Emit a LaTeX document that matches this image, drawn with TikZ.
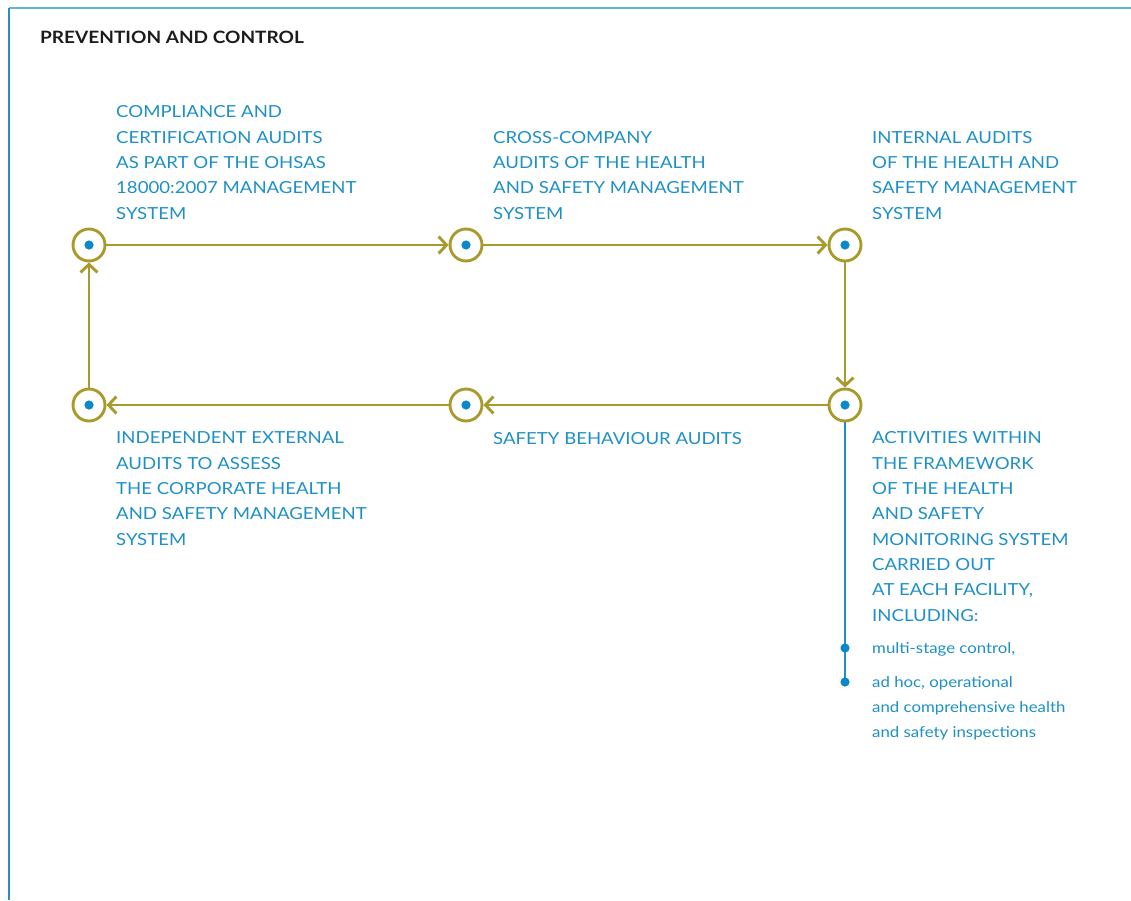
\documentclass[tikz,border=0pt]{standalone}
\usepackage{fontspec}
\setmainfont{Lato}[FakeStretch=1.12]
\usetikzlibrary{arrows.meta}
\definecolor{olivec}{HTML}{A89A2C}
\definecolor{textblue}{HTML}{1E90C8}
\definecolor{dotblue}{HTML}{0A88C8}
\definecolor{frametop}{HTML}{62B4DA}
\definecolor{frameleft}{HTML}{2A8CC6}
\definecolor{titlec}{HTML}{1C1C1C}
\begin{document}
\begin{tikzpicture}[x=1pt,y=-1pt,
ring/.style={circle,draw=olivec,line width=2.9pt,minimum size=32pt,inner sep=0pt,
	path picture={\fill[dotblue] (path picture bounding box.center) circle (4.6pt);}},
flow/.style={draw=olivec,line width=2.9pt,-{Straight Barb[length=8pt,width=17pt,line width=2.9pt]}},
blocktext/.style={anchor=base west,inner sep=0pt,align=left,text=textblue,
	font=\fontsize{16.6}{25.3}\selectfont},
smalltext/.style={anchor=base west,inner sep=0pt,align=left,text=textblue,
	font=\fontsize{15}{25}\selectfont}]
\useasboundingbox (0,0) rectangle (1131,900);

%frame
\coordinate (corner) at (9,8);
\coordinate (topend) at (1131,8);
\coordinate (leftend) at (9,900);
\draw[frametop,line width=1.3pt] (corner) -- (topend);
\draw[frameleft,line width=1.3pt] (corner) -- (leftend);

\node[anchor=base west,inner sep=0pt,text=titlec,font=\bfseries\fontsize{17}{20}\selectfont] (title) at (40,43) {PREVENTION AND CONTROL};

%audit cycle
\foreach \n/\x/\y in {1/89/245,2/466/245,3/845/245,4/845/405,5/466/405,6/89/405}
	\node[ring] (c\n) at (\x,\y) {};
\foreach \a/\b in {1/2,2/3,3/4,4/5,5/6,6/1}
	\draw[flow] (c\a) -- (c\b);

%labels (base = last line)
\node[blocktext] (t1) at (116,219) {COMPLIANCE AND\\CERTIFICATION AUDITS\\AS PART OF THE OHSAS\\18000:2007 MANAGEMENT\\SYSTEM};
\node[blocktext] (t2) at (493,219) {CROSS-COMPANY\\AUDITS OF THE HEALTH\\AND SAFETY MANAGEMENT\\SYSTEM};
\node[blocktext] (t3) at (872,219) {INTERNAL AUDITS\\OF THE HEALTH AND\\SAFETY MANAGEMENT\\SYSTEM};
\node[blocktext] (t6) at (116,545) {INDEPENDENT EXTERNAL\\AUDITS TO ASSESS\\THE CORPORATE HEALTH\\AND SAFETY MANAGEMENT\\SYSTEM};
\node[blocktext] (t5) at (493,444) {SAFETY BEHAVIOUR AUDITS};
\node[blocktext] (t4) at (872,621) {ACTIVITIES WITHIN\\THE FRAMEWORK\\OF THE HEALTH\\AND SAFETY\\MONITORING SYSTEM\\CARRIED OUT\\AT EACH FACILITY,\\INCLUDING:};

%monitoring branch
\coordinate (b1) at (845,648);
\coordinate (b2) at (845,682);
\draw[textblue,line width=2pt] (c4.south) -- (b2);
\foreach \p in {b1,b2}
	\fill[dotblue] (\p) circle (4.6pt);
\node[smalltext] (s1) at (872,653) {multi-stage control,};
\node[smalltext] (s2) at (872,737) {ad hoc, operational\\and comprehensive health\\and safety inspections};
\end{tikzpicture}
\end{document}
